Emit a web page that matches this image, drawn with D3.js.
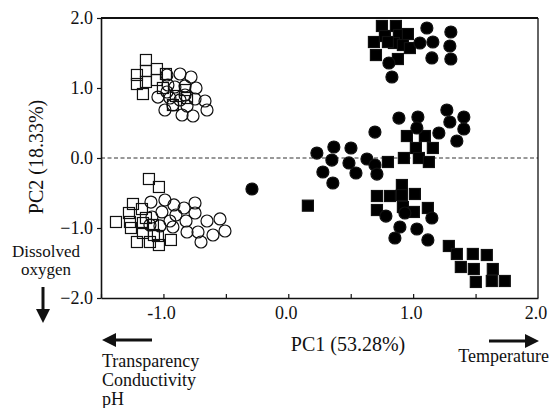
<!DOCTYPE html>
<html>
<head>
<meta charset="utf-8">
<script src="https://cdn.jsdelivr.net/npm/d3@7"></script>
<style>
  body { margin: 0; background: #fff; }
  text { font-family: "Liberation Serif", "Times New Roman", serif; fill: #111; }
</style>
</head>
<body>
<div id="chart"></div>
<script>
// PCA scores: [PC1, PC2]
var openSquares = [
  [-1.212, 1.186], [-1.140, 1.400], [-1.140, 1.243], [-1.052, 1.271], [-1.212, 1.057],
  [-1.140, 1.086], [-1.052, 1.114], [-1.164, 0.914], [-0.980, 1.200], [-0.827, 0.971],
  [-0.811, 0.857], [-0.924, 0.757], [-0.900, 0.886], [-1.004, 1.000],
  [-1.116, -0.300], [-1.036, -0.414], [-1.244, -0.657], [-1.276, -0.786], [-1.380, -0.914],
  [-1.268, -0.914], [-1.260, -1.000], [-1.172, -0.729], [-1.164, -0.929], [-1.164, -1.071],
  [-1.084, -0.957], [-1.076, -1.100], [-1.212, -1.200], [-1.108, -1.200], [-1.036, -1.243],
  [-0.940, -1.171], [-1.044, -1.114], [-1.140, -0.857]
];
var openCircles = [
  [-0.972, 1.186], [-0.867, 1.200], [-0.779, 1.157], [-0.964, 1.043], [-1.044, 0.871],
  [-0.972, 0.943], [-0.908, 1.014], [-0.827, 1.029], [-0.739, 1.000], [-0.948, 0.857],
  [-0.867, 0.829], [-0.827, 0.900], [-0.747, 0.843], [-0.667, 0.814], [-0.988, 0.686],
  [-0.924, 0.757], [-0.851, 0.614], [-0.763, 0.600], [-0.651, 0.686], [-0.811, 0.743],
  [-1.100, -0.629], [-0.988, -0.600], [-0.916, -0.671], [-0.835, -0.714], [-0.747, -0.643],
  [-1.012, -0.771], [-0.900, -0.814], [-0.747, -0.786], [-0.948, -0.900], [-0.819, -0.900],
  [-0.651, -0.900], [-0.547, -0.871], [-1.092, -0.843], [-1.028, -0.971], [-0.924, -0.986],
  [-0.811, -1.057], [-0.723, -1.057], [-0.603, -1.100], [-0.507, -1.043], [-0.699, -1.200],
  [-1.108, -0.957]
];
var filledSquares = [
  [0.750, 1.886], [0.862, 1.886], [0.686, 1.657], [0.774, 1.743], [0.886, 1.757],
  [0.958, 1.771], [0.846, 1.643], [0.918, 1.614], [0.974, 1.571], [0.702, 1.471],
  [0.878, 1.414], [0.798, 1.657],
  [0.950, 0.314], [1.094, 0.314], [1.022, 0.143], [1.158, 0.143], [0.926, 0.000],
  [1.046, 0.000], [1.126, -0.057], [0.798, -0.057], [0.157, -0.681],
  [0.710, -0.543], [0.814, -0.543], [0.910, -0.386], [0.910, -0.529], [1.014, -0.514],
  [0.710, -0.743], [0.918, -0.700], [1.006, -0.771], [1.118, -0.714],
  [1.286, -1.257], [1.350, -1.371], [1.478, -1.371], [1.590, -1.386], [1.382, -1.557],
  [1.486, -1.586], [1.638, -1.586], [1.502, -1.771], [1.630, -1.757], [1.734, -1.757]
];
var filledCircles = [
  [1.110, 1.857], [1.302, 1.800], [1.158, 1.657], [1.294, 1.600], [1.054, 1.643],
  [1.150, 1.429], [1.302, 1.414], [0.806, 1.357], [0.830, 1.157],
  [0.229, 0.071], [0.365, 0.157], [0.502, 0.143], [0.349, -0.029], [0.486, -0.071],
  [0.277, -0.200], [0.357, -0.357], [0.542, -0.214], [0.630, -0.014], [0.694, -0.100],
  [0.710, -0.229], [0.694, 0.371], [0.886, 0.571], [1.038, 0.586], [1.030, 0.429],
  [1.206, 0.357], [1.270, 0.686], [1.294, 0.514], [1.406, 0.586], [1.406, 0.414],
  [1.350, 0.243], [-0.291, -0.443],
  [0.782, -0.829], [0.934, -0.786], [1.150, -0.857], [0.894, -0.986], [1.030, -1.014],
  [0.854, -1.143], [1.118, -1.171]
];
var xTicks = [-1.0, 0.0, 1.0, 2.0];
var xMinorTicks = [-1.5, -1.0, -0.5, 0.0, 0.5, 1.0, 1.5];
var yTicks = [-2.0, -1.0, 0.0, 1.0, 2.0];

var W = 552, H = 408;
var margin = {left: 101, right: 14, top: 18, bottom: 110};
var width = W - margin.left - margin.right;
var height = H - margin.top - margin.bottom;

var svg = d3.select("#chart").append("svg")
    .attr("width", W)
    .attr("height", H);
var chart = svg.append("g")
    .attr("transform", "translate(" + margin.left + "," + margin.top + ")");

var x = d3.scaleLinear().domain([-1.5, 2.0]).range([0, width]);
var y = d3.scaleLinear().domain([-2.0, 2.0]).range([height, 0]);

// zero line
chart.append("line")
    .attr("x1", 0).attr("x2", width)
    .attr("y1", y(0)).attr("y2", y(0))
    .attr("stroke", "#333").attr("stroke-width", 1)
    .attr("stroke-dasharray", "4,2.5");

// axes - minor ticks every 0.5 pointing in, labels only on whole numbers
var xAxis = d3.axisBottom(x).tickValues(xMinorTicks).tickSizeInner(-4).tickSizeOuter(0).tickFormat("");
var gx = chart.append("g")
    .attr("transform", "translate(0," + height + ")")
    .call(xAxis);
gx.selectAll(".xlab")
    .data(xTicks).enter().append("text")
    .attr("class", "xlab")
    .attr("x", function(d) { return x(d) - 2; })
    .attr("y", 21)
    .attr("text-anchor", "middle")
    .style("font-size", "18px")
    .text(function(d) { return d.toFixed(1); });

var yAxis = d3.axisLeft(y).tickValues(yTicks).tickSizeInner(4).tickSizeOuter(0)
    .tickPadding(4).tickFormat(d3.format(".1f"));
var gy = chart.append("g").call(yAxis);
gy.selectAll(".tick text")
    .style("font-family", "Liberation Serif, serif")
    .style("font-size", "18px")
    .attr("fill", "#111");

svg.selectAll(".domain").attr("stroke", "#111").attr("stroke-width", 1.6);
svg.selectAll(".tick line").attr("stroke", "#111").attr("stroke-width", 1.2);

// frame top + right
chart.append("line").attr("x1", 0).attr("x2", width).attr("y1", 0).attr("y2", 0)
    .attr("stroke", "#111").attr("stroke-width", 2);
chart.append("line").attr("x1", width).attr("x2", width).attr("y1", 0).attr("y2", height)
    .attr("stroke", "#111").attr("stroke-width", 1.3);

// markers
var sq = 11, r = 6;
function squares(data, fill) {
  chart.append("g").selectAll("rect")
    .data(data).enter().append("rect")
    .attr("x", function(d) { return x(d[0]) - sq / 2; })
    .attr("y", function(d) { return y(d[1]) - sq / 2; })
    .attr("width", sq).attr("height", sq)
    .attr("fill", fill)
    .attr("stroke", "#111").attr("stroke-width", 1.2);
}
function circles(data, fill) {
  chart.append("g").selectAll("circle")
    .data(data).enter().append("circle")
    .attr("cx", function(d) { return x(d[0]); })
    .attr("cy", function(d) { return y(d[1]); })
    .attr("r", r)
    .attr("fill", fill)
    .attr("stroke", "#111").attr("stroke-width", 1.2);
}
squares(openSquares, "none");
circles(openCircles, "none");
squares(filledSquares, "#000");
circles(filledCircles, "#000");

// axis titles
svg.append("text")
    .attr("x", 348).attr("y", 351)
    .attr("text-anchor", "middle")
    .style("font-size", "20px")
    .text("PC1 (53.28%)");
svg.append("text")
    .attr("transform", "translate(43,157) rotate(-90)")
    .attr("text-anchor", "middle")
    .style("font-size", "20px")
    .text("PC2 (18.33%)");

// loading annotations
function arrow(x1, y1, x2, y2) {
  var ang = Math.atan2(y2 - y1, x2 - x1), hl = 14, hw = 7;
  var bx = x2 - hl * Math.cos(ang), by = y2 - hl * Math.sin(ang);
  svg.append("line").attr("x1", x1).attr("y1", y1).attr("x2", bx).attr("y2", by)
    .attr("stroke", "#111").attr("stroke-width", 3);
  svg.append("path")
    .attr("d", "M" + x2 + "," + y2 +
      "L" + (bx + hw * Math.sin(ang)) + "," + (by - hw * Math.cos(ang)) +
      "L" + (bx - hw * Math.sin(ang)) + "," + (by + hw * Math.cos(ang)) + "Z")
    .attr("fill", "#111");
}
arrow(43, 287, 43, 323);
arrow(152, 340, 102, 340);
arrow(489, 341, 539, 341);

svg.append("text").attr("x", 46).attr("y", 257).attr("text-anchor", "middle")
    .style("font-size", "17px").text("Dissolved");
svg.append("text").attr("x", 46).attr("y", 275).attr("text-anchor", "middle")
    .style("font-size", "17px").text("oxygen");
svg.append("text").attr("x", 102).attr("y", 367).style("font-size", "18px").text("Transparency");
svg.append("text").attr("x", 102).attr("y", 386).style("font-size", "18px").text("Conductivity");
svg.append("text").attr("x", 102).attr("y", 405).style("font-size", "18px").text("pH");
svg.append("text").attr("x", 549).attr("y", 362).attr("text-anchor", "end")
    .style("font-size", "18px").text("Temperature");
</script>
</body>
</html>
